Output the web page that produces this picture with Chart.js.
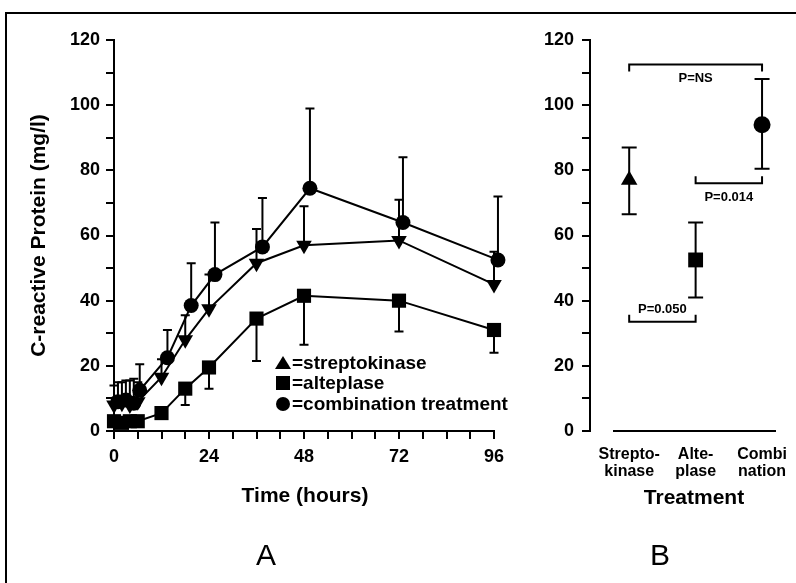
<!DOCTYPE html>
<html>
<head>
<meta charset="utf-8">
<script src="https://cdn.jsdelivr.net/npm/chart.js@4.4.1/dist/chart.umd.min.js"></script>
<style>
  body { margin: 0; background: #fff; }
  #wrap { position: relative; width: 796px; height: 583px; overflow: hidden; background: #fff; }
  #frame { position: absolute; left: 5px; top: 12px; width: 900px; height: 700px;
           border-left: 2px solid #000; border-top: 2px solid #000; }
  canvas { position: absolute; top: 0; }
  .txt { position: absolute; transform: translate(-50%, -50%); white-space: nowrap;
         font-family: 'Liberation Sans', Arial, sans-serif; color: #000; }
  .title { font-weight: bold; font-size: 21px; }
  .panel { font-size: 30px; }
</style>
</head>
<body>
<div id="wrap">
  <div id="frame"></div>
  <canvas id="chartA" width="520" height="583" style="left:0"></canvas>
  <canvas id="chartB" width="276" height="583" style="left:520px"></canvas>
  <div class="txt title" style="left:305px; top:495px">Time (hours)</div>
  <div class="txt title" style="left:694px; top:497px">Treatment</div>
  <div class="txt panel" style="left:266px; top:555px">A</div>
  <div class="txt panel" style="left:660px; top:555px">B</div>
</div>
<script>
const FONT = "'Liberation Sans', Arial, sans-serif";

// Panel A: C-reactive protein over time (mean, one-sided SD bars)
const hoursSK = [0, 2, 4, 6, 12, 18, 24, 36, 48, 72, 96];
const valuesSK = [8, 8.5, 8, 9, 16.5, 28, 37.5, 51.5, 57, 58.5, 45];
const upperSK = [14, 15, 15.5, 15, 22, 35.5, 48, 62, 69, 71, 55];

const hoursAP = [0, 2, 4, 6, 12, 18, 24, 36, 48, 72, 96];
const valuesAP = [3, 2.5, 3, 3, 5.5, 13, 19.5, 34.5, 41.5, 40, 31];
const lowerAP = [null, null, null, null, null, 8, 13, 21.5, 26.5, 30.5, 24];

const hoursCT = [1, 3, 5, 6.5, 13.5, 19.5, 25.5, 37.5, 49.5, 73, 97];
const valuesCT = [9, 9.5, 8.5, 12.5, 22.5, 38.5, 48, 56.5, 74.5, 64, 52.5];
const upperCT = [15, 15.5, 16, 20.5, 31, 51.5, 64, 71.5, 99, 84, 72];

const legendNames = ['streptokinase', 'alteplase', 'combination treatment'];

// Panel B: peak CRP per treatment (mean and SD)
const groupLabels = [['Strepto-', 'kinase'], ['Alte-', 'plase'], ['Combi', 'nation']];
const groupPos = [1, 2, 3];
const groupMeans = [77, 52.5, 94];
const groupLow = [66.5, 41, 80.5];
const groupHigh = [87, 64, 108];

const bracketFrom = [1, 2, 1];
const bracketTo = [3, 3, 2];
const bracketLevel = [112.5, 76, 33.5];
const bracketText = ['P=NS', 'P=0.014', 'P=0.050'];

function pts(xs, ys) {
  return xs.map((x, i) => ({ x: x, y: ys[i] }));
}

// draws vertical error bars with caps, under the markers
const errorBars = {
  id: 'errorBars',
  beforeDatasetsDraw(chart, args, opts) {
    const ctx = chart.ctx;
    const yScale = chart.scales.y;
    ctx.save();
    ctx.strokeStyle = '#000';
    ctx.lineWidth = 2;
    chart.data.datasets.forEach((ds, di) => {
      const meta = chart.getDatasetMeta(di);
      meta.data.forEach((pt, i) => {
        [ds.errHigh, ds.errLow].forEach(arr => {
          if (!arr || arr[i] == null) return;
          const ye = yScale.getPixelForValue(arr[i]);
          ctx.beginPath();
          ctx.moveTo(pt.x, pt.y);
          ctx.lineTo(pt.x, ye);
          ctx.moveTo(pt.x - opts.cap, ye);
          ctx.lineTo(pt.x + opts.cap, ye);
          ctx.stroke();
        });
      });
    });
    ctx.restore();
  }
};

// key in the lower right of panel A
const keyBox = {
  id: 'keyBox',
  afterDraw(chart) {
    const ctx = chart.ctx;
    const x0 = 283;
    const rows = [363, 383, 404];
    ctx.save();
    ctx.fillStyle = '#000';
    ctx.font = 'bold 19px ' + FONT;
    ctx.textBaseline = 'middle';
    legendNames.forEach((name, i) => {
      const yy = rows[i];
      ctx.beginPath();
      if (i === 0) {
        ctx.moveTo(x0, yy - 7);
        ctx.lineTo(x0 + 8, yy + 6);
        ctx.lineTo(x0 - 8, yy + 6);
        ctx.closePath();
      } else if (i === 1) {
        ctx.rect(x0 - 7, yy - 7, 14, 14);
      } else {
        ctx.arc(x0, yy, 7, 0, Math.PI * 2);
      }
      ctx.fill();
      ctx.fillText('=' + name, x0 + 9, yy + 1);
    });
    ctx.restore();
  }
};

// significance brackets and baseline of panel B
const brackets = {
  id: 'brackets',
  afterDatasetsDraw(chart) {
    const ctx = chart.ctx;
    const xs = chart.scales.x, ys = chart.scales.y;
    const dirs = [1, -1, -1];      // +1: ends hang down, -1: ends point up
    const textOff = [14, 14, -12];
    ctx.save();
    ctx.strokeStyle = '#000';
    ctx.fillStyle = '#000';
    ctx.lineWidth = 2;
    ctx.font = 'bold 13px ' + FONT;
    ctx.textAlign = 'center';
    ctx.textBaseline = 'middle';
    bracketFrom.forEach((f, i) => {
      const x1 = xs.getPixelForValue(f);
      const x2 = xs.getPixelForValue(bracketTo[i]);
      const yl = ys.getPixelForValue(bracketLevel[i]);
      ctx.beginPath();
      ctx.moveTo(x1, yl + dirs[i] * 7);
      ctx.lineTo(x1, yl);
      ctx.lineTo(x2, yl);
      ctx.lineTo(x2, yl + dirs[i] * 7);
      ctx.stroke();
      ctx.fillText(bracketText[i], (x1 + x2) / 2, yl + textOff[i]);
    });
    // baseline at zero, detached from the y axis
    const y0 = ys.getPixelForValue(0);
    ctx.beginPath();
    ctx.moveTo(chart.chartArea.left + 23, y0);
    ctx.lineTo(chart.chartArea.right, y0);
    ctx.stroke();
    ctx.restore();
  }
};

function yAxis(width, pad) {
  return {
    min: 0, max: 120,
    border: { color: '#000', width: 2 },
    grid: { drawOnChartArea: false, color: '#000', lineWidth: 2, tickLength: 8 },
    ticks: {
      stepSize: 10, autoSkip: false, color: '#000', padding: pad,
      font: { family: FONT, size: 18, weight: 'bold' },
      callback: v => (v % 20 === 0 ? v : '')
    },
    afterFit: s => { s.width = width; s.paddingTop = 0; s.paddingBottom = 0; }
  };
}

new Chart(document.getElementById('chartA'), {
  type: 'line',
  data: {
    datasets: [
      { label: legendNames[0], data: pts(hoursSK, valuesSK), errHigh: upperSK,
        pointStyle: 'triangle', rotation: 180, pointRadius: 9 },
      { label: legendNames[1], data: pts(hoursAP, valuesAP), errLow: lowerAP,
        pointStyle: 'rect', pointRadius: 10 },
      { label: legendNames[2], data: pts(hoursCT, valuesCT), errHigh: upperCT,
        pointStyle: 'circle', pointRadius: 7.5 }
    ].map(d => Object.assign(d, {
      borderColor: '#000', backgroundColor: '#000', borderWidth: 2,
      pointBorderWidth: 0, tension: 0, clip: false
    }))
  },
  options: {
    responsive: false, animation: false,
    layout: { padding: { top: 40, right: 26, left: 0, bottom: 0 } },
    plugins: { legend: { display: false }, tooltip: { enabled: false }, errorBars: { cap: 4.5 } },
    scales: {
      x: {
        type: 'linear', min: 0, max: 96,
        border: { color: '#000', width: 2 },
        grid: { drawOnChartArea: false, color: '#000', lineWidth: 2, tickLength: 8 },
        ticks: {
          stepSize: 6, autoSkip: false, maxRotation: 0, color: '#000', padding: 7,
          font: { family: FONT, size: 18, weight: 'bold' },
          callback: v => (v % 24 === 0 ? v : '')
        },
        afterFit: s => { s.height = 152; s.paddingLeft = 0; s.paddingRight = 0; }
      },
      y: Object.assign(yAxis(114, 6), {
        title: {
          display: true, text: 'C-reactive Protein (mg/l)', color: '#000',
          font: { family: FONT, size: 21, weight: 'bold' }, padding: { top: 27, bottom: 0 }
        }
      })
    }
  },
  plugins: [errorBars, keyBox]
});

new Chart(document.getElementById('chartB'), {
  type: 'scatter',
  data: {
    datasets: [{
      data: pts(groupPos, groupMeans),
      errHigh: groupHigh, errLow: groupLow,
      pointStyle: ['triangle', 'rect', 'circle'],
      pointRadius: [9.5, 10.5, 8.5],
      backgroundColor: '#000', borderColor: '#000', pointBorderWidth: 0
    }]
  },
  options: {
    responsive: false, animation: false,
    layout: { padding: { top: 40, right: 20, left: 0, bottom: 0 } },
    plugins: { legend: { display: false }, tooltip: { enabled: false }, errorBars: { cap: 7.5 } },
    scales: {
      x: {
        type: 'linear', min: 0.41, max: 3.21,
        border: { display: false },
        grid: { display: false, drawTicks: false },
        afterBuildTicks: s => { s.ticks = groupPos.map(v => ({ value: v })); },
        ticks: {
          autoSkip: false, maxRotation: 0, color: '#000', padding: 15,
          font: { family: FONT, size: 16, weight: 'bold', lineHeight: 1.05 },
          callback: (v, i) => groupLabels[i]
        },
        afterFit: s => { s.height = 152; s.paddingLeft = 0; s.paddingRight = 0; }
      },
      y: yAxis(70, 8)
    }
  },
  plugins: [errorBars, brackets]
});
</script>
</body>
</html>
